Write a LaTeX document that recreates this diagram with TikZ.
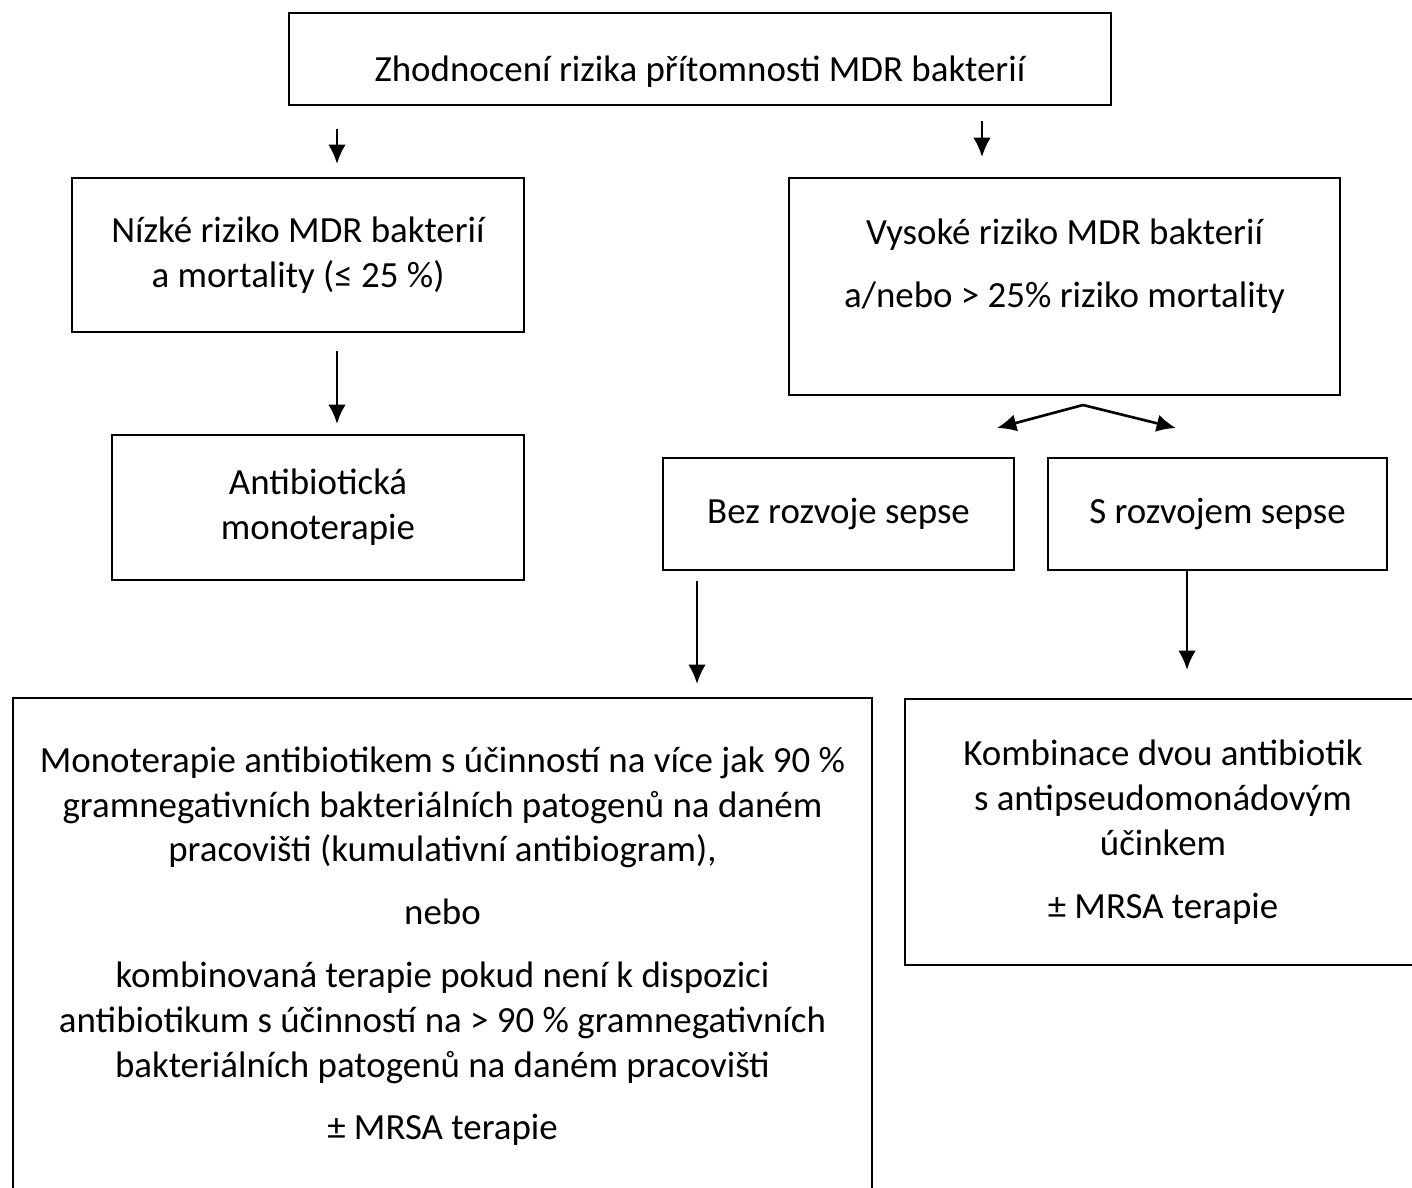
\documentclass[tikz,border=0pt]{standalone}
\usepackage{fontspec}
\setmainfont{Carlito}
\usetikzlibrary{arrows.meta}
\tikzset{
  box/.style={draw, line width=1.2pt, align=center, inner sep=0pt,
    font=\fontsize{21}{25.5}\selectfont},
  arr/.style={-{Latex[length=11pt,width=10pt]}, line width=1.5pt},
}
\begin{document}
\begin{tikzpicture}[x=0.02cm,y=-0.02cm]
  \clip (0,0) rectangle (1412,1187);
  \fill[white] (0,0) rectangle (1412,1187);
  % boxes
  \node[box, anchor=north, minimum width=16.44cm, text height=1.36cm, text depth=0.48cm] (top) at (700,12)
    {Zhodnocení rizika přítomnosti MDR bakterií};
  \node[box, minimum width=9.04cm, minimum height=3.08cm] (lowrisk) at (298,255)
    {Nízké riziko MDR bakterií\\a mortality (≤ 25 \%)};
  \node[box, anchor=north, minimum width=11.02cm, text height=2.58cm, text depth=1.76cm] (highrisk) at (1064.5,177)
    {Vysoké riziko MDR bakterií\\[0.36cm]a/nebo > 25\% riziko mortality};
  \node[box, minimum width=8.24cm, minimum height=2.90cm] (mono) at (318,507.5)
    {Antibiotická\\monoterapie};
  \node[box, minimum width=7.02cm, minimum height=2.24cm] (nosepsis) at (838.5,514)
    {Bez rozvoje sepse};
  \node[box, minimum width=6.78cm, minimum height=2.24cm] (sepsis) at (1217.5,514)
    {S rozvojem sepse};
  \node[box, anchor=north, minimum width=17.18cm, text height=8.84cm, text depth=1.82cm] (monoterapie) at (442.5,697)
    {Monoterapie antibiotikem s účinností na více jak 90 \%\\
     gramnegativních bakteriálních patogenů na daném\\
     pracovišti (kumulativní antibiogram),\\[0.36cm]
     nebo\\[0.36cm]
     kombinovaná terapie pokud není k dispozici\\
     antibiotikum s účinností na > 90 \% gramnegativních\\
     bakteriálních patogenů na daném pracovišti\\[0.36cm]
     ± MRSA terapie};
  \node[box, minimum width=10.32cm, minimum height=5.32cm] (kombinace) at (1163,832)
    {Kombinace dvou antibiotik\\
     s antipseudomonádovým\\
     účinkem\\[0.36cm]
     ± MRSA terapie};
  % arrows
  \coordinate (a1) at (337,0);
  \coordinate (a2) at (982,0);
  \coordinate (a5) at (697,0);
  \coordinate (a6) at (1187,0);
  \coordinate (fork) at (1083,405);
  \coordinate (forkl) at (997,428);
  \coordinate (forkr) at (1176,428);
  \begin{scope}[arr]
    \draw[shorten <=0.46cm, shorten >=0.26cm] (top.south -| a1) to (lowrisk.north -| a1);
    \draw[shorten <=0.30cm, shorten >=0.40cm] (top.south -| a2) to (highrisk.north -| a2);
    \draw[shorten <=0.36cm, shorten >=0.20cm] (lowrisk.south -| a1) to (mono.north -| a1);
    \draw (fork) to (forkl);
    \draw (fork) to (forkr);
    \draw[shorten <=0.20cm, shorten >=0.26cm] (nosepsis.south -| a5) to (monoterapie.north -| a5);
    \draw[shorten >=0.56cm] (sepsis.south -| a6) to (kombinace.north -| a6);
  \end{scope}
\end{tikzpicture}
\end{document}
